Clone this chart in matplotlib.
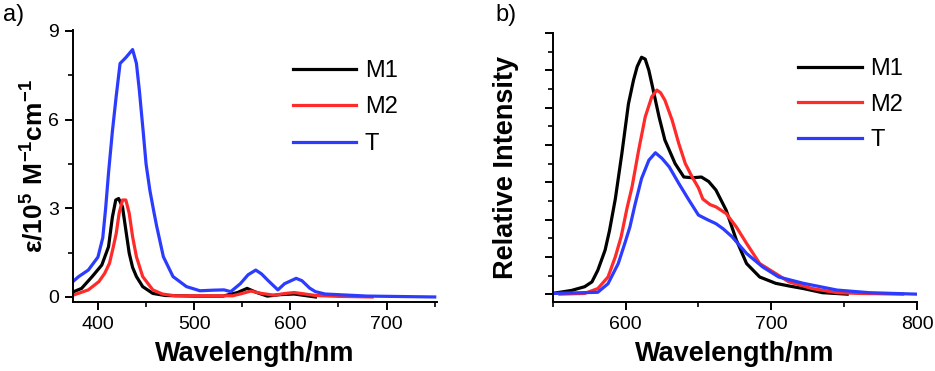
import matplotlib
matplotlib.use("Agg")
import matplotlib.pyplot as plt
from matplotlib.ticker import MultipleLocator

plt.rcParams['font.family'] = ['Liberation Sans', 'DejaVu Sans']
plt.rcParams['mathtext.fontset'] = 'custom'
plt.rcParams['mathtext.rm'] = 'Liberation Sans'
plt.rcParams['mathtext.bf'] = 'Liberation Sans:bold'

# panel a: absorption
wl_m1_abs = [375, 383, 394, 404, 411, 415, 418.5, 421.5, 425.5, 429, 432.5, 436, 440, 446.5, 457, 470, 500, 530,
             545, 555, 565, 576, 590, 604, 615, 626]
eps_m1 = [0.18, 0.29, 0.69, 1.08, 1.7, 2.7, 3.28, 3.33, 3.05, 2.26, 1.48, 1.0, 0.69, 0.35, 0.12, 0.05, 0.03, 0.03,
          0.15, 0.29, 0.15, 0.03, 0.08, 0.1, 0.05, 0.0]
wl_m2_abs = [375, 390, 401, 407, 412, 416, 419, 422, 425.5, 429, 432.5, 436, 440, 446.5, 457, 467, 480, 540,
             550, 559, 570, 583, 595, 604, 615, 626, 650, 685]
eps_m2 = [0.07, 0.24, 0.52, 0.8, 1.14, 1.7, 2.15, 2.83, 3.28, 3.28, 2.83, 2.04, 1.36, 0.69, 0.24, 0.1, 0.04, 0.04,
          0.12, 0.2, 0.12, 0.06, 0.12, 0.15, 0.1, 0.05, 0.02, 0.0]
wl_t_abs = [375, 380, 390, 400, 405, 408, 411, 415, 419, 423, 429, 436, 440, 443, 447, 450, 454, 458, 461, 468,
            478, 492, 506, 520, 531, 538, 548, 556, 564, 570, 577, 587, 594, 606, 612, 620, 626, 636, 680, 750]
eps_t = [0.55, 0.69, 0.91, 1.35, 2.0, 3.0, 4.2, 5.6, 6.8, 7.9, 8.1, 8.37, 7.9, 7.0, 5.6, 4.5, 3.6, 2.9, 2.4, 1.36,
         0.69, 0.35, 0.21, 0.23, 0.24, 0.18, 0.45, 0.75, 0.91, 0.78, 0.55, 0.24, 0.45, 0.63, 0.55, 0.3, 0.18, 0.1,
         0.03, 0.0]

# panel b: emission
wl_m1_em = [550, 563, 572, 577, 581, 586, 589, 593, 597.5, 602, 605.5, 608, 611, 613.5, 616, 619, 623, 627, 634,
            640, 646, 652, 657, 662, 669, 676, 683, 692, 703, 712, 722, 735, 752]
int_m1 = [0.02, 0.1, 0.2, 0.33, 0.64, 1.18, 1.7, 2.55, 3.77, 5.1, 5.74, 6.1, 6.35, 6.3, 6.0, 5.47, 4.75, 4.13, 3.5,
          3.14, 3.12, 3.14, 3.02, 2.79, 2.25, 1.45, 0.82, 0.46, 0.29, 0.22, 0.15, 0.04, 0.0]
wl_m2_em = [555, 572, 581, 588, 593, 597, 601, 604.5, 609, 613.5, 618, 621.5, 624, 627, 632, 636.5, 641, 645.7, 650,
            653, 658, 662, 669, 676, 683, 692, 701, 712, 728, 745, 760, 790]
int_m2 = [0.0, 0.02, 0.15, 0.46, 1.0, 1.54, 2.3, 2.88, 3.86, 4.75, 5.29, 5.47, 5.4, 5.2, 4.66, 4.04, 3.5, 3.14, 2.85,
          2.55, 2.4, 2.34, 2.16, 1.8, 1.36, 0.82, 0.6, 0.33, 0.15, 0.04, 0.02, 0.0]
wl_t_em = [550, 581, 588, 595, 599.5, 603, 606.5, 611, 616, 620.5, 625, 630, 636.5, 643.5, 650, 656, 662, 667, 673,
           683, 694, 705, 722, 745, 767, 800]
int_t = [0.02, 0.05, 0.28, 0.82, 1.36, 1.8, 2.4, 3.1, 3.59, 3.79, 3.64, 3.41, 2.97, 2.52, 2.12, 2.0, 1.89, 1.75,
         1.54, 1.09, 0.73, 0.46, 0.29, 0.11, 0.04, 0.0]

labels = ['M1', 'M2', 'T']
colors = ['#000000', '#ff2a2a', '#2b3cff']


def style_axes(ax):
    for s in ['top', 'right']:
        ax.spines[s].set_visible(False)
    for s in ['left', 'bottom']:
        ax.spines[s].set_linewidth(1.4)
    ax.tick_params(which='major', direction='out', length=6, width=1.4, labelsize=14, pad=4)
    ax.tick_params(which='minor', direction='out', length=3.5, width=1.2)


fig = plt.figure(figsize=(9.35, 3.71), dpi=100)

ax1 = fig.add_axes([0.078, 0.186, 0.389, 0.733])
for x, y, lab, c in zip([wl_m1_abs, wl_m2_abs, wl_t_abs], [eps_m1, eps_m2, eps_t], labels, colors):
    ax1.plot(x, y, color=c, lw=2.3, label=lab)
ax1.set_xlim(374, 752)
ax1.set_ylim(-0.17, 9.03)
ax1.xaxis.set_major_locator(MultipleLocator(100))
ax1.xaxis.set_minor_locator(MultipleLocator(50))
ax1.yaxis.set_major_locator(MultipleLocator(3))
ax1.yaxis.set_minor_locator(MultipleLocator(1.5))
style_axes(ax1)
ax1.set_xlabel('Wavelength/nm', fontsize=19.5, fontweight='bold', labelpad=6)
ax1.set_ylabel(r'$\mathbf{\varepsilon/10^5\ M^{-1}cm^{-1}}$', fontsize=19, labelpad=0)
ax1.legend(loc='upper left', bbox_to_anchor=(0.604, 0.89), frameon=False, fontsize=17, handlelength=2.7,
           handletextpad=0.35, labelspacing=0.61, borderpad=0, borderaxespad=0)

ax2 = fig.add_axes([0.591, 0.186, 0.390, 0.725])
for x, y, lab, c in zip([wl_m1_em, wl_m2_em, wl_t_em], [int_m1, int_m2, int_t], labels, colors):
    ax2.plot(x, y, color=c, lw=2.3, label=lab)
ax2.set_xlim(550, 800)
ax2.set_ylim(-0.21, 7)
ax2.xaxis.set_major_locator(MultipleLocator(100))
ax2.xaxis.set_minor_locator(MultipleLocator(50))
ax2.yaxis.set_major_locator(MultipleLocator(1))
ax2.yaxis.set_minor_locator(MultipleLocator(0.5))
style_axes(ax2)
ax2.set_yticklabels([])
ax2.set_xlabel('Wavelength/nm', fontsize=19.5, fontweight='bold', labelpad=6)
ax2.set_ylabel('Relative Intensity', fontsize=19.5, fontweight='bold', labelpad=14)
ax2.legend(loc='upper left', bbox_to_anchor=(0.673, 0.907), frameon=False, fontsize=17, handlelength=2.7,
           handletextpad=0.35, labelspacing=0.58, borderpad=0, borderaxespad=0)

fig.text(0.003, 0.96, 'a)', fontsize=17, va='center', ha='left')
fig.text(0.530, 0.96, 'b)', fontsize=17, va='center', ha='left')

fig.savefig('out.png', dpi=100)
